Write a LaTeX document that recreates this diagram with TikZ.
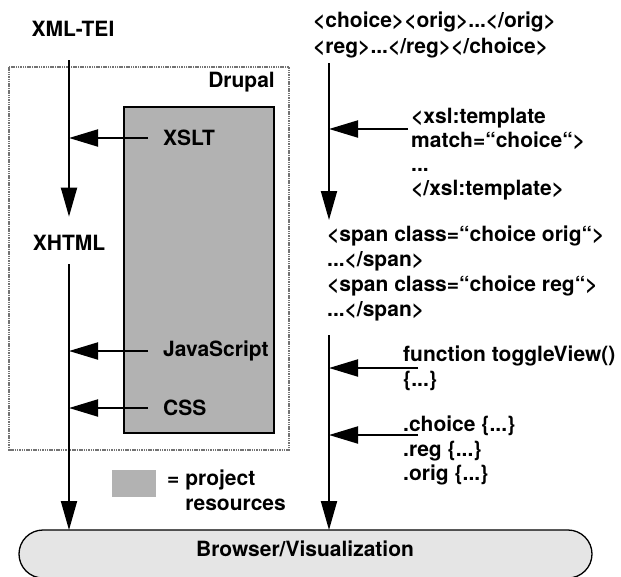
\documentclass[tikz,border=0pt]{standalone}
\usepackage{fontspec}
\setmainfont{TeX Gyre Heros}
\usetikzlibrary{arrows.meta}
\begin{document}
\begin{tikzpicture}[x=1pt,y=-1pt,
  txt/.style={font=\fontsize{21}{25}\selectfont\bfseries, inner sep=0pt, align=left},
  flow/.style={line width=2pt, -{Triangle[length=29pt,width=16pt]}},
  feed/.style={line width=2pt, -{Triangle[length=29pt,width=17pt]}},
  drupalbox/.style={draw=black!55, line width=2pt, dash pattern=on 1.5pt off 0.8pt},
  resbox/.style={draw=black, fill=black!30, line width=2pt},
  legbox/.style={fill=black!30},
  browserbox/.style={draw=black, fill=black!10, line width=1.3pt, rounded corners=24pt}
]
\useasboundingbox (0,0) rectangle (621,576);

% containers
\draw[drupalbox] (9,67) rectangle (289,450);
\draw[resbox] (124,107) rectangle (274,433);
\draw[browserbox] (19,530) rectangle (592,578);
\coordinate (browsertop) at (305,530);
\node[txt] (browser) at (305,549) {Browser/Visualization};

% left column
\node[txt, anchor=east] (drupal) at (275,82) {Drupal};
\node[txt] (xmltei) at (73,29) {XML-TEI};
\node[txt] (xhtml) at (69,243) {XHTML};
\node[txt, anchor=west] (xslt) at (163,138) {XSLT};
\node[txt, anchor=west] (js) at (163,351) {JavaScript};
\node[txt, anchor=west] (css) at (163,408) {CSS};

\coordinate (l1) at (69,60);
\coordinate (l2) at (69,264);
\draw[flow] (l1) -- ([yshift=18.5pt]xhtml.north);
\draw[flow] (l2) -- (browsertop -| l2);
\draw[feed] ([xshift=-15pt]xslt.west) -- (xslt.west -| l1);
\draw[feed] ([xshift=-15pt]js.west) -- (js.west -| l1);
\draw[feed] ([xshift=-15pt]css.west) -- (css.west -| l1);

% legend
\fill[legbox] (112,470) rectangle (156,497);
\node[txt, anchor=north west] (legend) at (167,470) {= project\\\hphantom{=\ }resources};

% right column
\node[txt, anchor=north west, font=\fontsize{21}{26}\selectfont\bfseries] (tei) at (313,12)
  {<choice><orig>...</orig>\\<reg>...</reg></choice>};
\node[txt, anchor=north west, font=\fontsize{21}{24}\selectfont\bfseries] (xsl) at (411,108)
  {<xsl:template\\match=“choice“>\\...\\</xsl:template>};
\node[txt, anchor=north west, font=\fontsize{21}{25}\selectfont\bfseries] (span) at (327,226)
  {<span class=“choice orig“>\\...</span>\\<span class=“choice reg“>\\...</span>};
\node[txt, anchor=north west, font=\fontsize{21}{25}\selectfont\bfseries] (toggle) at (403,346)
  {function toggleView()\\\{...\}};
\node[txt, anchor=north west, font=\fontsize{21}{24.5}\selectfont\bfseries] (cssrules) at (403,416)
  {.choice \{...\}\\.reg \{...\}\\.orig \{...\}};

\coordinate (r1) at (329,63);
\coordinate (r2) at (329,335);
\draw[flow] (r1) -- ([xshift=2pt,yshift=6pt]span.north west);
\draw[flow] (r2) -- (browsertop -| r2);
\draw[feed] ([xshift=-3pt,yshift=-21pt]xsl.north west) -- ([yshift=-21pt]xsl.north west -| r1);
\draw[feed] ([xshift=15pt,yshift=-22pt]toggle.north west) -- ([yshift=-22pt]toggle.north west -| r1);
\draw[feed] ([xshift=15pt,yshift=-19pt]cssrules.north west) -- ([yshift=-19pt]cssrules.north west -| r1);
\end{tikzpicture}
\end{document}
